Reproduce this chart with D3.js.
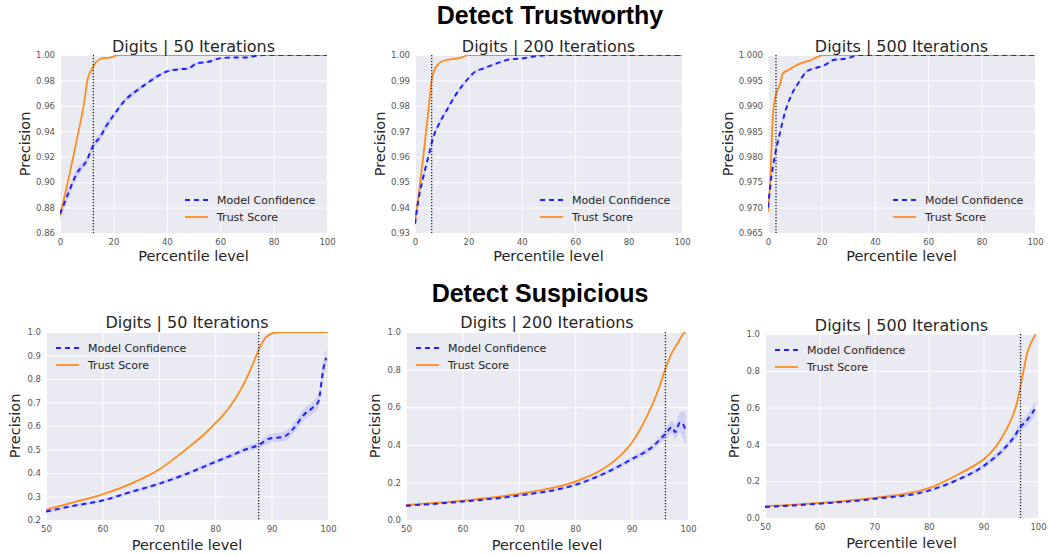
<!DOCTYPE html>
<html><head><meta charset="utf-8">
<script src="https://cdn.jsdelivr.net/npm/d3@7"></script>
<style>
body{margin:0;background:#fff;}
text{font-family:"DejaVu Sans",sans-serif;}
</style></head>
<body>
<svg id="c" width="1048" height="555"></svg>
<script>
// ---------- DATA ----------
const sectionTitles = ["Detect Trustworthy", "Detect Suspicious"];
const panelTitles = ["Digits | 50 Iterations", "Digits | 200 Iterations", "Digits | 500 Iterations",
                     "Digits | 50 Iterations", "Digits | 200 Iterations", "Digits | 500 Iterations"];
const seriesNames = ["Model Confidence", "Trust Score"];
const xLabel = "Percentile level";
const yLabel = "Precision";

const xTicksTop = [0, 20, 40, 60, 80, 100];
const xTicksBottom = [50, 60, 70, 80, 90, 100];
const yTicks1 = [0.86, 0.88, 0.90, 0.92, 0.94, 0.96, 0.98, 1.00];
const yTicks2 = [0.93, 0.94, 0.95, 0.96, 0.97, 0.98, 0.99, 1.00];
const yTicks3 = [0.965, 0.970, 0.975, 0.980, 0.985, 0.990, 0.995, 1.000];
const yTicks4 = [0.2, 0.3, 0.4, 0.5, 0.6, 0.7, 0.8, 0.9, 1.0];
const yTicks5 = [0.0, 0.2, 0.4, 0.6, 0.8, 1.0];
const yTicks6 = [0.0, 0.2, 0.4, 0.6, 0.8, 1.0];

// vertical dotted reference lines (percentile)
const cutoffs = [12.5, 6.25, 3.0, 87.7, 96.0, 96.8];

// Panel 1: Trustworthy, 50 iterations
const tw50TrustX = [0, 2.5, 6.25, 8.75, 10.6, 12, 13.1, 14.5, 15.6, 18.75, 21.9, 100];
const tw50Trust  = [0.874, 0.896, 0.933, 0.959, 0.983, 0.989, 0.9934, 0.996, 0.9974, 0.998, 1.0, 1.0];
const tw50ModelX = [0, 2.5, 6.25, 10, 12.5, 15, 17.5, 20.6, 23.75, 28.75, 32.5, 36.25, 40, 44.4, 48.1, 51.25, 55.6, 60, 65, 70, 73.75, 76.25, 100];
const tw50Model  = [0.875, 0.888, 0.9066, 0.917, 0.929, 0.9355, 0.9447, 0.954, 0.963, 0.972, 0.9776, 0.983, 0.987, 0.9887, 0.9895, 0.9934, 0.9947, 0.9974, 0.998, 0.998, 0.9995, 1.0, 1.0];
const tw50ModelSd = [0.005, 0.004, 0.004, 0.003, 0.003, 0.003, 0.003, 0.002, 0.002, 0.002, 0.0015, 0.0015, 0.001, 0.001, 0.001, 0.001, 0.0008, 0.0006, 0.0005, 0.0005, 0.0003, 0, 0];

// Panel 2: Trustworthy, 200 iterations
const tw200TrustX = [0, 1.25, 3.1, 5, 6.25, 7.5, 10, 13.1, 16.25, 18.1, 20, 100];
const tw200Trust  = [0.9342, 0.944, 0.96, 0.978, 0.990, 0.9947, 0.9974, 0.9983, 0.9987, 0.9993, 1.0, 1.0];
const tw200ModelX = [0, 1.25, 3.1, 5, 6.9, 8.75, 11.9, 15.6, 19.4, 22.5, 25.6, 30.6, 35.6, 40.6, 45.6, 50.6, 100];
const tw200Model  = [0.9336, 0.9428, 0.952, 0.96, 0.9678, 0.9724, 0.9783, 0.9849, 0.9901, 0.9934, 0.9947, 0.9967, 0.9983, 0.9987, 0.9996, 1.0, 1.0];
const tw200ModelSd = [0.003, 0.002, 0.0015, 0.0012, 0.001, 0.001, 0.0008, 0.0007, 0.0006, 0.0005, 0.0004, 0.0003, 0.0002, 0.0002, 0.0001, 0, 0];

// Panel 3: Trustworthy, 500 iterations
const tw500TrustX = [0, 0.9, 1.9, 3.1, 4.4, 5.6, 7.5, 10, 12.5, 15.6, 18.75, 21.25, 100];
const tw500Trust  = [0.9691, 0.976, 0.9885, 0.9924, 0.9941, 0.9964, 0.997, 0.9978, 0.9984, 0.9989, 0.9997, 1.0, 1.0];
const tw500ModelX = [0, 1.25, 2.5, 4.4, 6.25, 8.75, 11.25, 14.4, 17.5, 21.25, 24.4, 29.4, 34.4, 100];
const tw500Model  = [0.970, 0.976, 0.980, 0.9845, 0.9885, 0.9921, 0.9944, 0.9967, 0.9974, 0.998, 0.999, 0.9993, 1.0, 1.0];
const tw500ModelSd = [0.0012, 0.0008, 0.0006, 0.0005, 0.0004, 0.0004, 0.0003, 0.0003, 0.0002, 0.0002, 0.0002, 0.0001, 0, 0];

// Panel 4: Suspicious, 50 iterations
const su50TrustX = [50, 55, 60, 65, 70, 75, 77.5, 80, 81, 82, 83, 84, 85, 86, 87, 88, 89, 90, 91, 92, 100];
const su50Trust  = [0.244, 0.276, 0.309, 0.354, 0.414, 0.504, 0.553, 0.611, 0.636, 0.664, 0.696, 0.733, 0.776, 0.826, 0.883, 0.94, 0.978, 0.993, 0.998, 1.0, 1.0];
const su50ModelX = [50, 55, 60, 65, 70, 75, 80, 83, 85, 87.7, 89.7, 92.1, 93.9, 95.7, 97.5, 98.3, 99.2, 99.7];
const su50Model  = [0.236, 0.261, 0.283, 0.319, 0.354, 0.397, 0.447, 0.476, 0.497, 0.519, 0.547, 0.554, 0.59, 0.647, 0.683, 0.704, 0.847, 0.89];
const su50ModelSd = [0.006, 0.006, 0.006, 0.007, 0.007, 0.008, 0.009, 0.01, 0.012, 0.015, 0.018, 0.02, 0.022, 0.025, 0.028, 0.03, 0.04, 0.045];

// Panel 5: Suspicious, 200 iterations
const su200TrustX = [50, 60, 70, 80, 85, 87.7, 90.1, 91.9, 93.6, 94.8, 96, 97.2, 98.3, 99.2, 99.6];
const su200Trust  = [0.08, 0.103, 0.139, 0.204, 0.272, 0.334, 0.414, 0.503, 0.609, 0.698, 0.805, 0.893, 0.947, 0.991, 1.0];
const su200ModelX = [50, 60, 70, 80, 85, 90.1, 93.6, 96, 97.2, 97.7, 98.6, 99.1, 99.6];
const su200Model  = [0.076, 0.098, 0.130, 0.187, 0.245, 0.325, 0.387, 0.458, 0.494, 0.467, 0.52, 0.51, 0.476];
const su200ModelSd = [0.004, 0.005, 0.006, 0.008, 0.01, 0.013, 0.018, 0.025, 0.035, 0.04, 0.055, 0.07, 0.09];

// Panel 6: Suspicious, 500 iterations
const su500TrustX = [50, 60, 70, 80, 85, 88.4, 90.2, 92, 93.8, 95.3, 96.2, 97.2, 98.1, 99, 99.6];
const su500Trust  = [0.064, 0.082, 0.109, 0.162, 0.231, 0.286, 0.322, 0.377, 0.459, 0.55, 0.632, 0.778, 0.905, 0.969, 1.0];
const su500ModelX = [50, 60, 70, 80, 85, 90.2, 93.8, 95.6, 96.8, 98, 99.5];
const su500Model  = [0.06, 0.078, 0.104, 0.149, 0.204, 0.286, 0.377, 0.44, 0.495, 0.532, 0.596];
const su500ModelSd = [0.003, 0.004, 0.005, 0.007, 0.009, 0.013, 0.018, 0.022, 0.028, 0.032, 0.04];

// ---------- LAYOUT ----------
const layout = [
  {l:60,  r:327,  t:55,  b:233, ylx:25,  ty:52,  xly:261, legend:"br", ly:200},
  {l:415, r:682,  t:55,  b:233, ylx:380, ty:52,  xly:261, legend:"br", ly:200},
  {l:768, r:1035, t:55,  b:233, ylx:728, ty:52,  xly:261, legend:"br", ly:200},
  {l:46,  r:328,  t:332, b:520, ylx:15,  ty:328, xly:550, legend:"tl", ly:348},
  {l:406, r:688,  t:332, b:520, ylx:375, ty:328, xly:550, legend:"tl", ly:348},
  {l:765, r:1038, t:334, b:518, ylx:734, ty:331, xly:548, legend:"tl", ly:350}
];

const panels = [
  {xd:[0,100], xt:xTicksTop, yt:yTicks1, fmt:".2f", tx:tw50TrustX, ty:tw50Trust, mx:tw50ModelX, my:tw50Model, ms:tw50ModelSd},
  {xd:[0,100], xt:xTicksTop, yt:yTicks2, fmt:".2f", tx:tw200TrustX, ty:tw200Trust, mx:tw200ModelX, my:tw200Model, ms:tw200ModelSd},
  {xd:[0,100], xt:xTicksTop, yt:yTicks3, fmt:".3f", tx:tw500TrustX, ty:tw500Trust, mx:tw500ModelX, my:tw500Model, ms:tw500ModelSd},
  {xd:[50,100], xt:xTicksBottom, yt:yTicks4, fmt:".1f", tx:su50TrustX, ty:su50Trust, mx:su50ModelX, my:su50Model, ms:su50ModelSd},
  {xd:[50,100], xt:xTicksBottom, yt:yTicks5, fmt:".1f", tx:su200TrustX, ty:su200Trust, mx:su200ModelX, my:su200Model, ms:su200ModelSd},
  {xd:[50,100], xt:xTicksBottom, yt:yTicks6, fmt:".1f", tx:su500TrustX, ty:su500Trust, mx:su500ModelX, my:su500Model, ms:su500ModelSd}
];

const BLUE = "#1f1fff", ORANGE = "#ff8c1a", BG = "#eaeaf2";
const svg = d3.select("#c");
svg.append("rect").attr("width",1048).attr("height",555).attr("fill","#fff");

svg.append("text").attr("x",550).attr("y",24).attr("text-anchor","middle")
  .style("font-family","'Liberation Sans',Arial,sans-serif").style("font-weight","bold").style("font-size","25px")
  .attr("fill","#000").text(sectionTitles[0]);
svg.append("text").attr("x",540).attr("y",302).attr("text-anchor","middle")
  .style("font-family","'Liberation Sans',Arial,sans-serif").style("font-weight","bold").style("font-size","25px")
  .attr("fill","#000").text(sectionTitles[1]);

panels.forEach((p,i) => {
  const L = layout[i];
  const x = d3.scaleLinear().domain(p.xd).range([L.l, L.r]);
  const ydom = [p.yt[0], p.yt[p.yt.length-1]];
  const y = d3.scaleLinear().domain(ydom).range([L.b, L.t]);
  const g = svg.append("g");
  const clipId = "clip"+i;
  svg.append("clipPath").attr("id",clipId).append("rect")
    .attr("x",L.l).attr("y",L.t).attr("width",L.r-L.l).attr("height",L.b-L.t);

  g.append("rect").attr("x",L.l).attr("y",L.t).attr("width",L.r-L.l).attr("height",L.b-L.t).attr("fill",BG);

  const xAxis = d3.axisBottom(x).tickValues(p.xt).tickSize(-(L.b-L.t)).tickPadding(4).tickFormat(d3.format("d"));
  const gx = g.append("g").attr("transform",`translate(0,${L.b})`).call(xAxis);
  const yAxis = d3.axisLeft(y).tickValues(p.yt).tickSize(-(L.r-L.l)).tickPadding(5).tickFormat(d3.format(p.fmt));
  const gy = g.append("g").attr("transform",`translate(${L.l},0)`).call(yAxis);
  [gx,gy].forEach(a => {
    a.select(".domain").remove();
    a.selectAll(".tick line").attr("stroke","#fff").attr("stroke-width",1);
    a.selectAll(".tick text").attr("fill","#555").style("font-size","8.5px").style("font-family","'DejaVu Sans',sans-serif");
  });
  gx.selectAll(".tick text").attr("dy","0.9em");

  const pl = g.append("g").attr("clip-path",`url(#${clipId})`);

  const mData = p.mx.map((xv,k)=>({x:xv, y:p.my[k], s:p.ms[k]}));
  const tData = p.tx.map((xv,k)=>({x:xv, y:p.ty[k]}));
  const band = d3.area().x(d=>x(d.x)).y0(d=>y(d.y-d.s)).y1(d=>y(d.y+d.s)).curve(d3.curveMonotoneX);
  pl.append("path").attr("d",band(mData)).attr("fill",BLUE).attr("fill-opacity",0.12);

  const line = d3.line().x(d=>x(d.x)).y(d=>y(d.y)).curve(d3.curveMonotoneX);
  pl.append("path").attr("d",line(tData)).attr("fill","none").attr("stroke",ORANGE).attr("stroke-width",1.8);
  pl.append("path").attr("d",line(mData)).attr("fill","none").attr("stroke",BLUE).attr("stroke-width",2)
    .attr("stroke-dasharray","5,4");

  pl.append("line").attr("x1",x(cutoffs[i])).attr("x2",x(cutoffs[i])).attr("y1",L.t).attr("y2",L.b)
    .attr("stroke","#222").attr("stroke-width",1.3).attr("stroke-dasharray","1.3,1.7");

  g.append("text").attr("x",(L.l+L.r)/2).attr("y",L.ty).attr("text-anchor","middle")
    .style("font-size","16px").attr("fill","#262626").text(panelTitles[i]);
  g.append("text").attr("x",(L.l+L.r)/2).attr("y",L.xly).attr("text-anchor","middle")
    .style("font-size","14.5px").attr("fill","#262626").text(xLabel);
  g.append("text").attr("transform",`translate(${L.ylx},${(L.t+L.b)/2}) rotate(-90)`).attr("dy","0.35em")
    .attr("text-anchor","middle").style("font-size","14.5px").attr("fill","#262626").text(yLabel);

  const hx = L.legend === "br" ? L.r-142 : L.l+10;
  const rows = [{name:seriesNames[0], dash:"5,4", c:BLUE, w:2}, {name:seriesNames[1], dash:null, c:ORANGE, w:1.8}];
  rows.forEach((rw,k)=>{
    const yy = L.ly + k*17;
    const ln = g.append("line").attr("x1",hx).attr("x2",hx+23).attr("y1",yy).attr("y2",yy)
      .attr("stroke",rw.c).attr("stroke-width",rw.w);
    if (rw.dash) ln.attr("stroke-dasharray",rw.dash);
    g.append("text").attr("x",hx+32).attr("y",yy).attr("dy","0.35em").style("font-size","11px")
      .attr("fill","#262626").text(rw.name);
  });
});
</script>
</body></html>
